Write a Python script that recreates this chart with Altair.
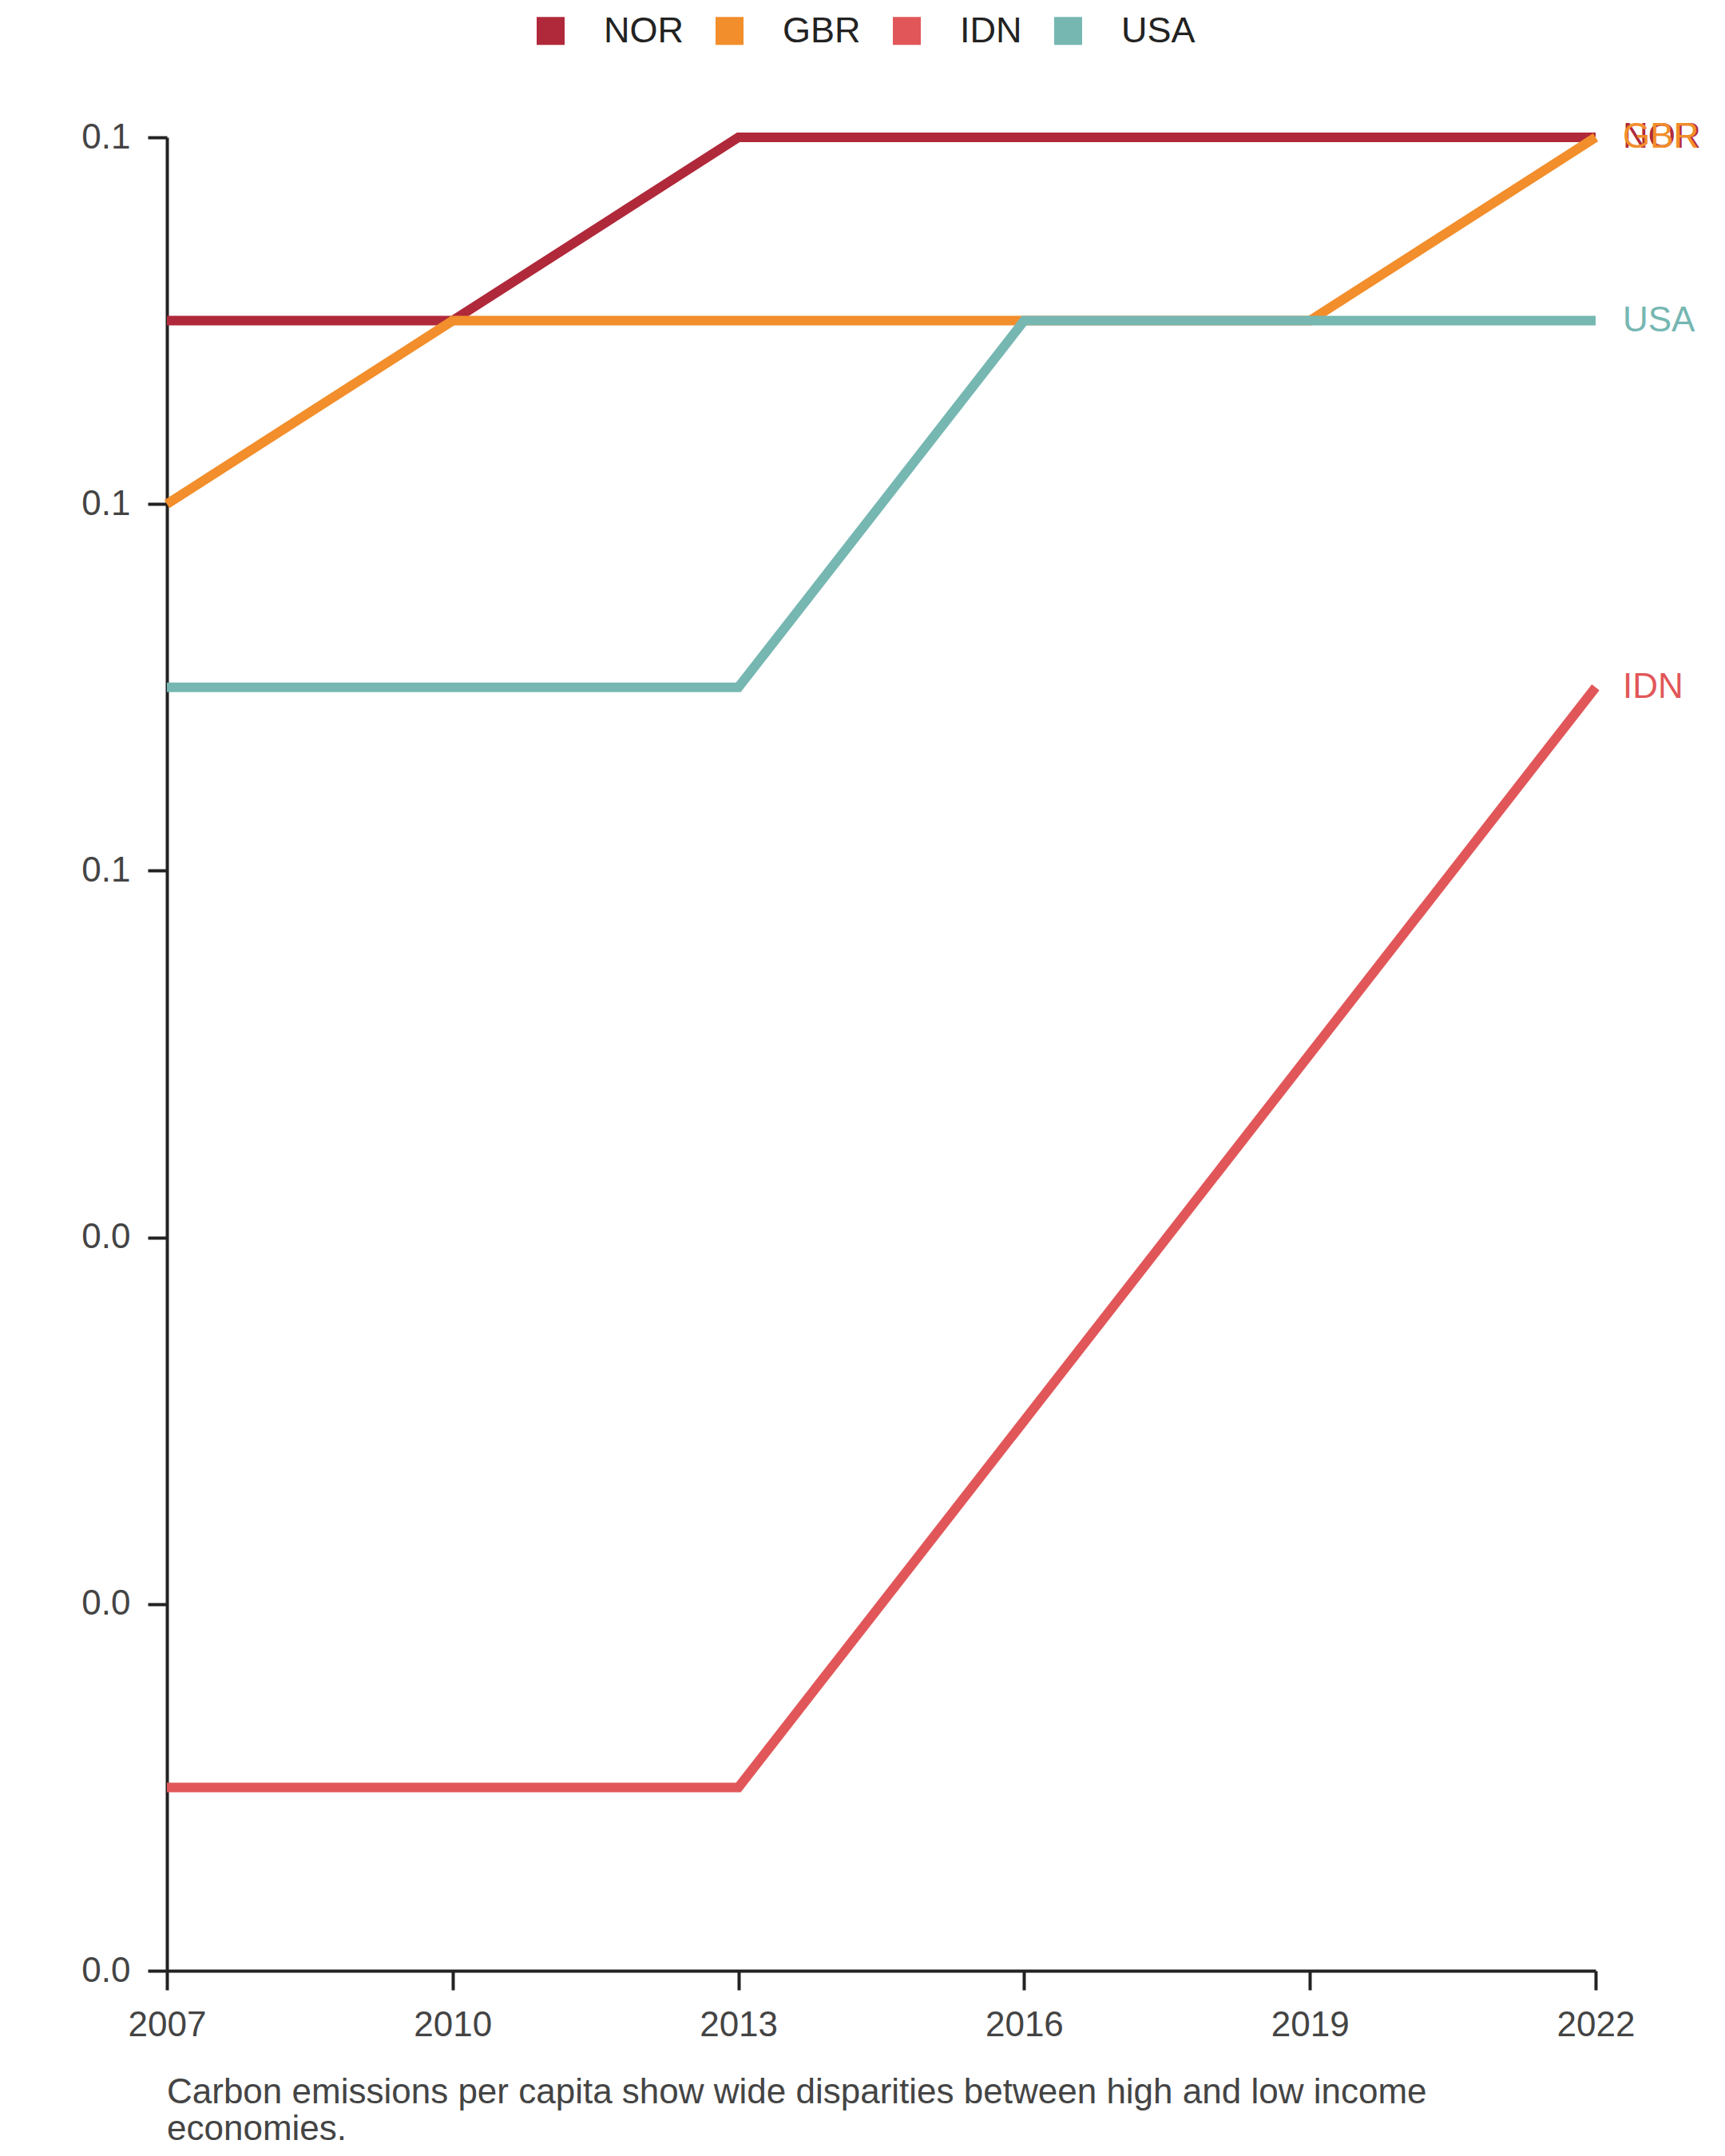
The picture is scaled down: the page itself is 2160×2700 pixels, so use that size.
import altair as alt
import pandas as pd

years = [2007, 2010, 2013, 2016, 2019, 2022]
countries = ["NOR", "GBR", "IDN", "USA"]
nor = [0.09, 0.09, 0.10, 0.10, 0.10, 0.10]
gbr = [0.08, 0.09, 0.09, 0.09, 0.09, 0.10]
idn = [0.01, 0.01, 0.01, 0.03, 0.05, 0.07]
usa = [0.07, 0.07, 0.07, 0.09, 0.09, 0.09]
colors = ["#b0293a", "#f28e2b", "#e15759", "#76b7b2"]
y_ticks = [0.0, 0.02, 0.04, 0.06, 0.08, 0.10]
caption = ["Carbon emissions per capita show wide disparities between high and low income",
           "economies."]

series = {"NOR": nor, "GBR": gbr, "IDN": idn, "USA": usa}
rows = []
for c in countries:
    for yr, v in zip(years, series[c]):
        rows.append({"country": c, "year": yr, "value": v})
df = pd.DataFrame(rows)

FONT = "Liberation Sans"

color_scale = alt.Scale(domain=countries, range=colors)

x = alt.X("year:Q", scale=alt.Scale(domain=[2007, 2022], nice=False, zero=False),
          axis=alt.Axis(values=years, format="d", title=None, grid=False,
                        labelFontSize=44, labelFont=FONT, labelColor="#444444",
                        labelPadding=22, tickSize=24, tickWidth=4, tickColor="#222222",
                        domainWidth=4, domainColor="#222222", labelFlush=False))
y = alt.Y("value:Q", scale=alt.Scale(domain=[0, 0.1], nice=False),
          axis=alt.Axis(values=y_ticks, format=".1f", title=None, grid=False,
                        labelFontSize=44, labelFont=FONT, labelColor="#444444",
                        labelPadding=22, tickSize=24, tickWidth=4, tickColor="#222222",
                        domainWidth=4, domainColor="#222222"))

lines = alt.Chart(df).mark_line(strokeWidth=12, strokeCap="butt").encode(
    x=x, y=y,
    color=alt.Color("country:N", scale=color_scale, sort=countries,
                    legend=alt.Legend(title=None, orient="none", direction="horizontal",
                                      legendX=458, legendY=-156, padding=0,
                                      symbolType="square", symbolSize=1225,
                                      symbolStrokeWidth=0, symbolOpacity=1,
                                      labelFontSize=45, labelFont=FONT, labelColor="#222222",
                                      labelOffset=44, columnPadding=35)),
    order=alt.Order("year:Q"),
)

labels = alt.Chart(df).transform_filter(alt.datum.year == 2022).mark_text(
    align="left", baseline="middle", dx=34, fontSize=44, font=FONT
).encode(
    x=alt.X("year:Q"), y=alt.Y("value:Q"),
    text="country:N",
    color=alt.Color("country:N", scale=color_scale, legend=None),
)

chart = alt.layer(lines, labels).properties(
    width=1789, height=2296,
    title=alt.TitleParams(text=caption, orient="bottom", anchor="start", frame="group",
                          fontSize=44, font=FONT, fontWeight="normal", color="#444444",
                          lineHeight=46, offset=41),
    autosize=alt.AutoSizeParams(type="none"),
    padding={"left": 201, "top": 164, "right": 150, "bottom": 224},
).configure_view(stroke=None)

chart.save("out.html", embed_options={"renderer": "svg", "actions": False})
